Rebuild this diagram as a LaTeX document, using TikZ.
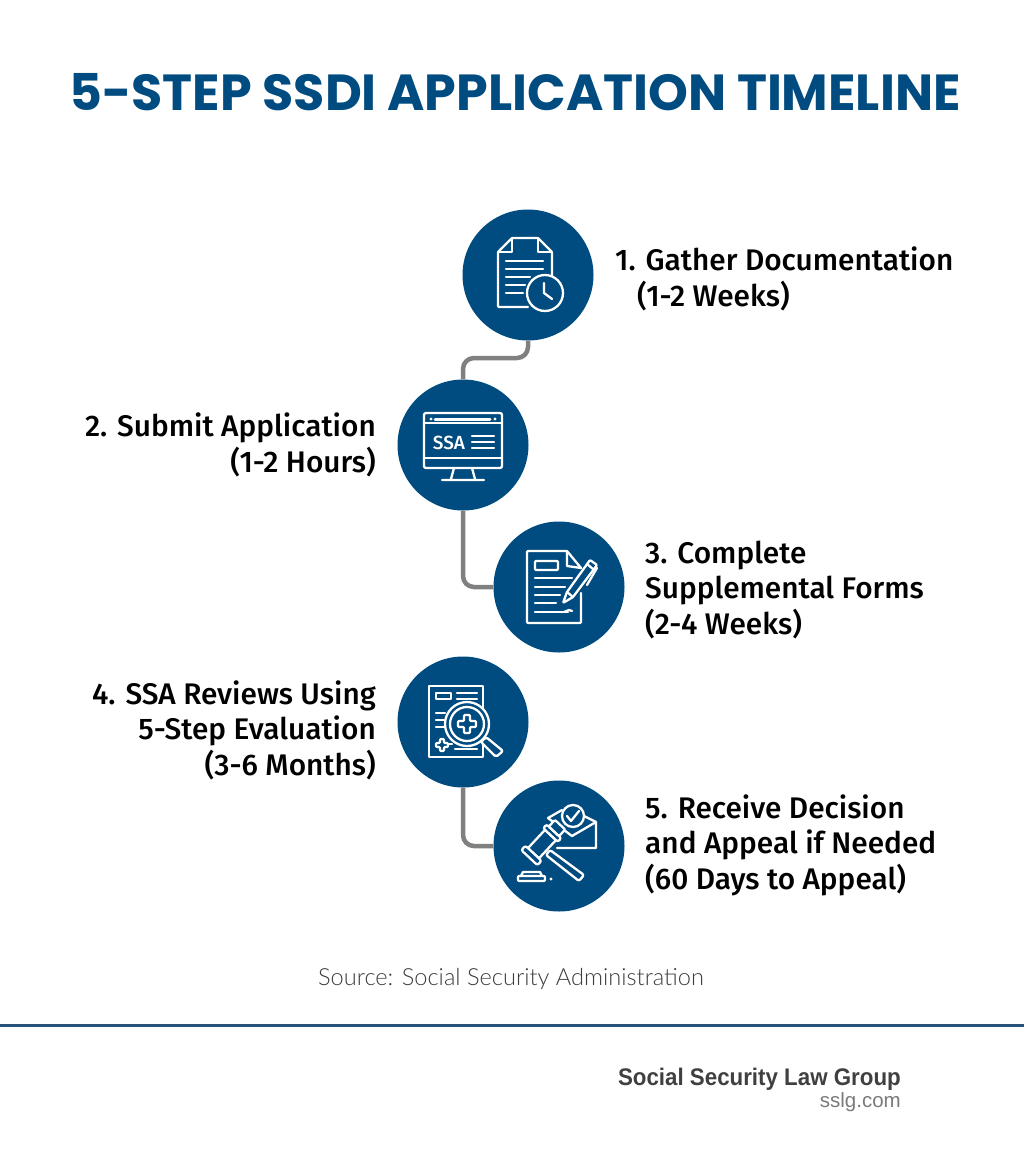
\documentclass[tikz,border=0pt]{standalone}
\usepackage{fontspec}
\setmainfont[Ligatures=NoCommon]{Fira Sans Medium}
\newfontfamily\titlefont{Poppins}
\newfontfamily\sourcefont{Lato Light}
\newfontfamily\footfont{Liberation Sans}
\definecolor{ssablue}{HTML}{004B80}
\definecolor{rulecolor}{HTML}{27537B}
\definecolor{linkgray}{HTML}{808080}
\definecolor{sourcegray}{HTML}{3C3C3C}
\definecolor{footgray}{HTML}{404040}
\definecolor{sitegray}{HTML}{7A7A7A}
\tikzset{
  stepcircle/.style={circle, fill=ssablue, minimum size=131pt, inner sep=0pt},
  steplink/.style={draw=linkgray, line width=4.5pt, rounded corners=11pt},
  steplabel/.style={font=\fontsize{29.8}{35.5}\selectfont, text=black, inner sep=0pt, align=left, anchor=west},
  leftlabel/.style={steplabel, align=right, anchor=east},
  icon/.style={draw=white, line width=2.3pt, line join=round, line cap=round},
  iconfill/.style={icon, fill=ssablue},
}
\begin{document}
\begin{tikzpicture}[x=1pt, y=-1pt]
\useasboundingbox (0,0) rectangle (1024,1154);
\node[font=\titlefont\fontsize{50.7}{58}\selectfont\bfseries, text=ssablue, inner sep=0pt] (title) at (515,92) {5-STEP SSDI APPLICATION TIMELINE};
% circles
\node[stepcircle] (c1) at (528,275) {};
\node[stepcircle] (c2) at (463,445) {};
\node[stepcircle] (c3) at (559,587) {};
\node[stepcircle] (c4) at (463,722) {};
\node[stepcircle] (c5) at (559,846) {};
% connectors
\coordinate (m12) at (495,358);
\draw[steplink] (c1.south) |- (m12) -| (c2.north);
\draw[steplink] (c2.south) |- (c3.west);
\draw[steplink] (c4.south) |- (c5.west);
% labels
\node[steplabel] (l1) at (615,279) {1. Gather Documentation\\\hspace{22pt}(1-2 Weeks)};
\node[leftlabel] (l2) at (376,445) {2. Submit Application\\(1-2 Hours)};
\node[steplabel] (l3) at (645,590) {3. Complete\\Supplemental Forms\\(2-4 Weeks)};
\node[leftlabel] (l4) at (376,730) {4. SSA Reviews Using\\5-Step Evaluation\\(3-6 Months)};
\node[steplabel] (l5) at (645,845) {5. Receive Decision\\and Appeal if Needed\\(60 Days to Appeal)};
% footer
\node[font=\sourcefont\fontsize{23.6}{28}\selectfont, text=sourcegray, inner sep=0pt] (source) at (511,979) {Source: Social Security Administration};
\coordinate (ruleL) at (0,1025);
\coordinate (ruleR) at (1024,1025);
\draw[draw=rulecolor, line width=3pt] (ruleL) -- (ruleR);
\node[font=\footfont\fontsize{24}{28}\selectfont\bfseries, text=footgray, inner sep=0pt, anchor=east, xscale=.93] (brand) at (901,1079) {Social Security Law Group};
\node[font=\footfont\fontsize{20.5}{24}\selectfont, text=sitegray, inner sep=0pt, anchor=east] (site) at (901,1102) {sslg.com};
% icon 1
\draw[icon, rounded corners=1pt] (528,307) -- (498,307) -- (498,252) -- (512,238) -- (538,238) -- (552,252) -- (552,280);
\draw[icon] (512,238) -- (512,252) -- (498,252) (538,238) -- (538,252) -- (552,252);
\foreach \ya/\xb in {261/543, 269/543, 277/530, 285/525, 293/523}
  \draw[icon] (506,\ya) -- (\xb,\ya);
\draw[iconfill] (545,293) circle (18);
\draw[icon] (544,283) -- (544,293) -- (552,299);
% icon 2
\draw[icon, rounded corners=2pt] (424,413) rectangle (502,468);
\draw[icon] (424,423) -- (502,423) (424,458) -- (502,458);
\draw[icon, line width=3pt] (435,419) -- (490,419);
\fill[white] (431,419) circle (1.6) (495,419) circle (1.6);
\node[font=\fontsize{19}{20}\selectfont, text=white, inner sep=0pt] (ssa) at (449,443) {SSA};
\foreach \ya in {436,442,448}
  \draw[icon] (472,\ya) -- (494,\ya);
\draw[icon] (454,468) -- (451,479) (472,468) -- (475,479) (442,480) -- (484,480);
% icon 3
\draw[icon, rounded corners=1pt] (581,593) -- (581,623) -- (527,623) -- (527,551) -- (567,551) -- (581,568);
\draw[icon] (567,551) -- (567,566) -- (581,568);
\draw[icon, rounded corners=1pt] (535,561) rectangle (558,570);
\foreach \ya/\xb in {578/572, 587/565, 595/560, 603/556, 612/568}
  \draw[icon] (535,\ya) -- (\xb,\ya);
\draw[icon] (564,612) -- (569,610) -- (572,611);
\draw[iconfill, rounded corners=1pt] (563,603) -- (567,592) -- (590,560) -- (597,565) -- (573,597) -- cycle;
\draw[icon] (567,592) -- (573,597) (587,564) -- (593,569) (597,568) -- (587,585);
% icon 4
\draw[icon] (429,686) rectangle (483,757);
\draw[icon] (436,693) rectangle (451,699);
\draw[icon] (457,693) -- (477,693) (457,699) -- (477,699);
\draw[icon] (436,713) -- (445,713) (436,720) -- (444,720) (436,727) -- (444,727);
\draw[icon] (455,749) -- (477,749) (449,744) -- (452,744);
\draw[iconfill, rounded corners=1pt] (440,739) -- (444,739) -- (444,743) -- (448,743) -- (448,747) -- (444,747) -- (444,751) -- (440,751) -- (440,747) -- (436,747) -- (436,743) -- (440,743) -- cycle;
\draw[iconfill, rounded corners=2pt] (486,737) -- (481,742) -- (496,757) -- (503,751) -- cycle;
\draw[iconfill] (467,724) circle (22);
\draw[icon] (467,724) circle (17);
\draw[icon, rounded corners=1pt] (464,715) -- (470,715) -- (470,721) -- (476,721) -- (476,727) -- (470,727) -- (470,733) -- (464,733) -- (464,727) -- (458,727) -- (458,721) -- (464,721) -- cycle;
% icon 5
\draw[icon] (596,822) -- (596,848) -- (557,848) (548,818) -- (572,836) -- (596,822) -- (584,816) (548,818) -- (562,810);
\draw[iconfill, rounded corners=2pt] (550,850) -- (546,855) -- (579,881) -- (584,875) -- cycle;
\begin{scope}[shift={(543,843)}, rotate=47]
\draw[iconfill, rounded corners=1pt] (-14,-7.5) rectangle (11,7.5);
\draw[iconfill, rounded corners=2pt] (-20,-11) rectangle (-14,11);
\draw[iconfill, rounded corners=2pt] (11,-10) rectangle (16,10);
\draw[iconfill, rounded corners=1pt] (16,-7) rectangle (25,7);
\end{scope}
\draw[iconfill] (573,816) circle (11);
\draw[icon] (567,816) -- (571,821) -- (579,811);
\draw[icon, rounded corners=1pt] (518,881) -- (545,881) -- (545,876) -- (518,876) -- cycle;
\draw[icon] (521,876) -- (523,872) -- (540,872) -- (542,876);
\fill[white] (551,879) circle (1.6);
\end{tikzpicture}
\end{document}
